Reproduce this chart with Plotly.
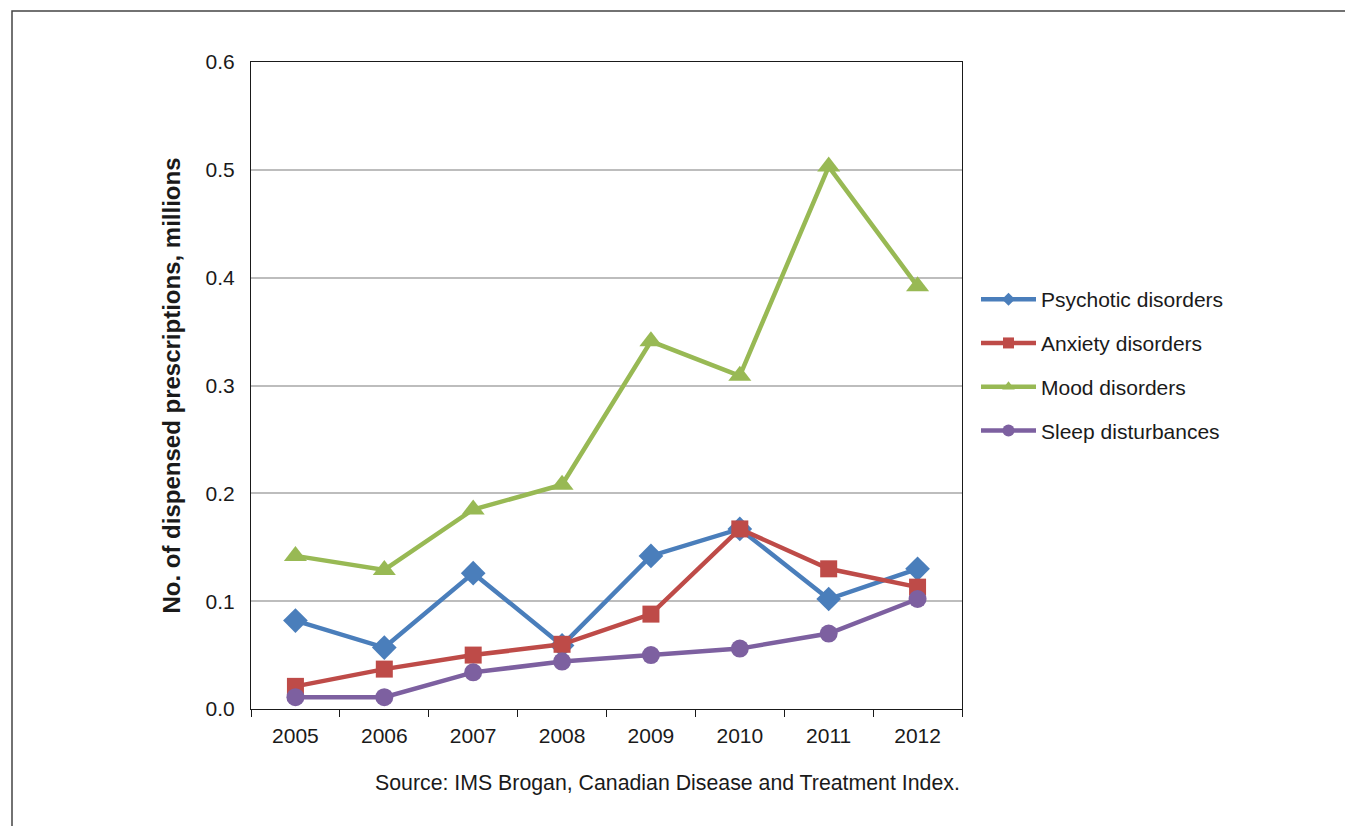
import plotly.graph_objects as go

years = ["2005", "2006", "2007", "2008", "2009", "2010", "2011", "2012"]

psychotic = [0.082, 0.057, 0.126, 0.059, 0.142, 0.167, 0.102, 0.130]
anxiety = [0.021, 0.037, 0.050, 0.060, 0.088, 0.167, 0.130, 0.113]
mood = [0.142, 0.129, 0.185, 0.208, 0.341, 0.309, 0.503, 0.392]
sleep = [0.011, 0.011, 0.034, 0.044, 0.050, 0.056, 0.070, 0.102]

# name, values, colour, marker symbol, marker size on plot, marker size in legend
series = [
    ("Psychotic disorders", psychotic, "#4A7EBB", "diamond", 19, 10),
    ("Anxiety disorders", anxiety, "#BE4B48", "square", 17, 11),
    ("Mood disorders", mood, "#98B954", "triangle-up", 20, 11),
    ("Sleep disturbances", sleep, "#7D60A0", "circle", 18, 12),
]

W, H = 1345, 826
L, R, T, B = 251, 962, 62, 709

FONT = "Liberation Sans, Arial, sans-serif"

fig = go.Figure()
for name, vals, color, symbol, size, lsize in series:
    fig.add_trace(go.Scatter(
        x=years, y=vals, name=name, mode="lines+markers",
        showlegend=False,
        line=dict(color=color, width=4.5),
        marker=dict(symbol=symbol, size=size, color=color,
                    line=dict(width=0)),
    ))
    # legend entry with a smaller marker
    fig.add_trace(go.Scatter(
        x=[None], y=[None], name=name, mode="lines+markers",
        legendgroup=name, hoverinfo="skip",
        line=dict(color=color, width=4.5),
        marker=dict(symbol=symbol, size=lsize, color=color,
                    line=dict(width=0)),
    ))

# outer frame around the whole figure (extends past the bottom/right edges)
def px_to_paper_x(px):
    return (px - L) / (R - L)

def px_to_paper_y(py):
    return (B - py) / (B - T)

fig.add_shape(type="rect", xref="paper", yref="paper",
              x0=px_to_paper_x(12), x1=px_to_paper_x(1360),
              y0=px_to_paper_y(840), y1=px_to_paper_y(11),
              line=dict(color="#444444", width=1.5), layer="below")

fig.add_annotation(
    text="Source: IMS Brogan, Canadian Disease and Treatment Index.",
    xref="paper", yref="paper", x=1.0, y=px_to_paper_y(783),
    xanchor="right", yanchor="middle", showarrow=False,
    font=dict(family=FONT, size=21.3, color="#1a1a1a"),
)

fig.update_layout(
    width=W, height=H,
    margin=dict(l=L, r=W - R, t=T, b=H - B, pad=0),
    paper_bgcolor="white", plot_bgcolor="white",
    font=dict(family=FONT, size=21, color="#1a1a1a"),
    showlegend=True,
    legend=dict(
        x=px_to_paper_x(976), y=px_to_paper_y(279),
        xanchor="left", yanchor="top",
        traceorder="grouped", tracegroupgap=13.5,
        font=dict(family=FONT, size=21, color="#1a1a1a"),
        bgcolor="rgba(0,0,0,0)", itemwidth=55,
    ),
    xaxis=dict(
        type="category", range=[-0.5, 7.5],
        showline=True, linecolor="#1a1a1a", linewidth=1.2, mirror=True,
        ticks="outside", ticklen=7, tickcolor="#1a1a1a", tickwidth=1.2,
        tickson="boundaries", showgrid=False, ticklabelstandoff=8,
        tickfont=dict(family=FONT, size=21, color="#1a1a1a"),
    ),
    yaxis=dict(
        range=[0, 0.6], dtick=0.1, tickformat=".1f",
        showline=True, linecolor="#1a1a1a", linewidth=1.2, mirror=True,
        ticks="", showgrid=True, gridcolor="#BDBDBD", gridwidth=1.5,
        zeroline=False, ticklabelstandoff=11,
        tickfont=dict(family=FONT, size=21, color="#1a1a1a"),
        title=dict(text="<b>No. of dispensed prescriptions, millions</b>",
                   font=dict(family=FONT, size=24, color="#1a1a1a"),
                   standoff=18),
    ),
)

fig.write_html("out.html")
